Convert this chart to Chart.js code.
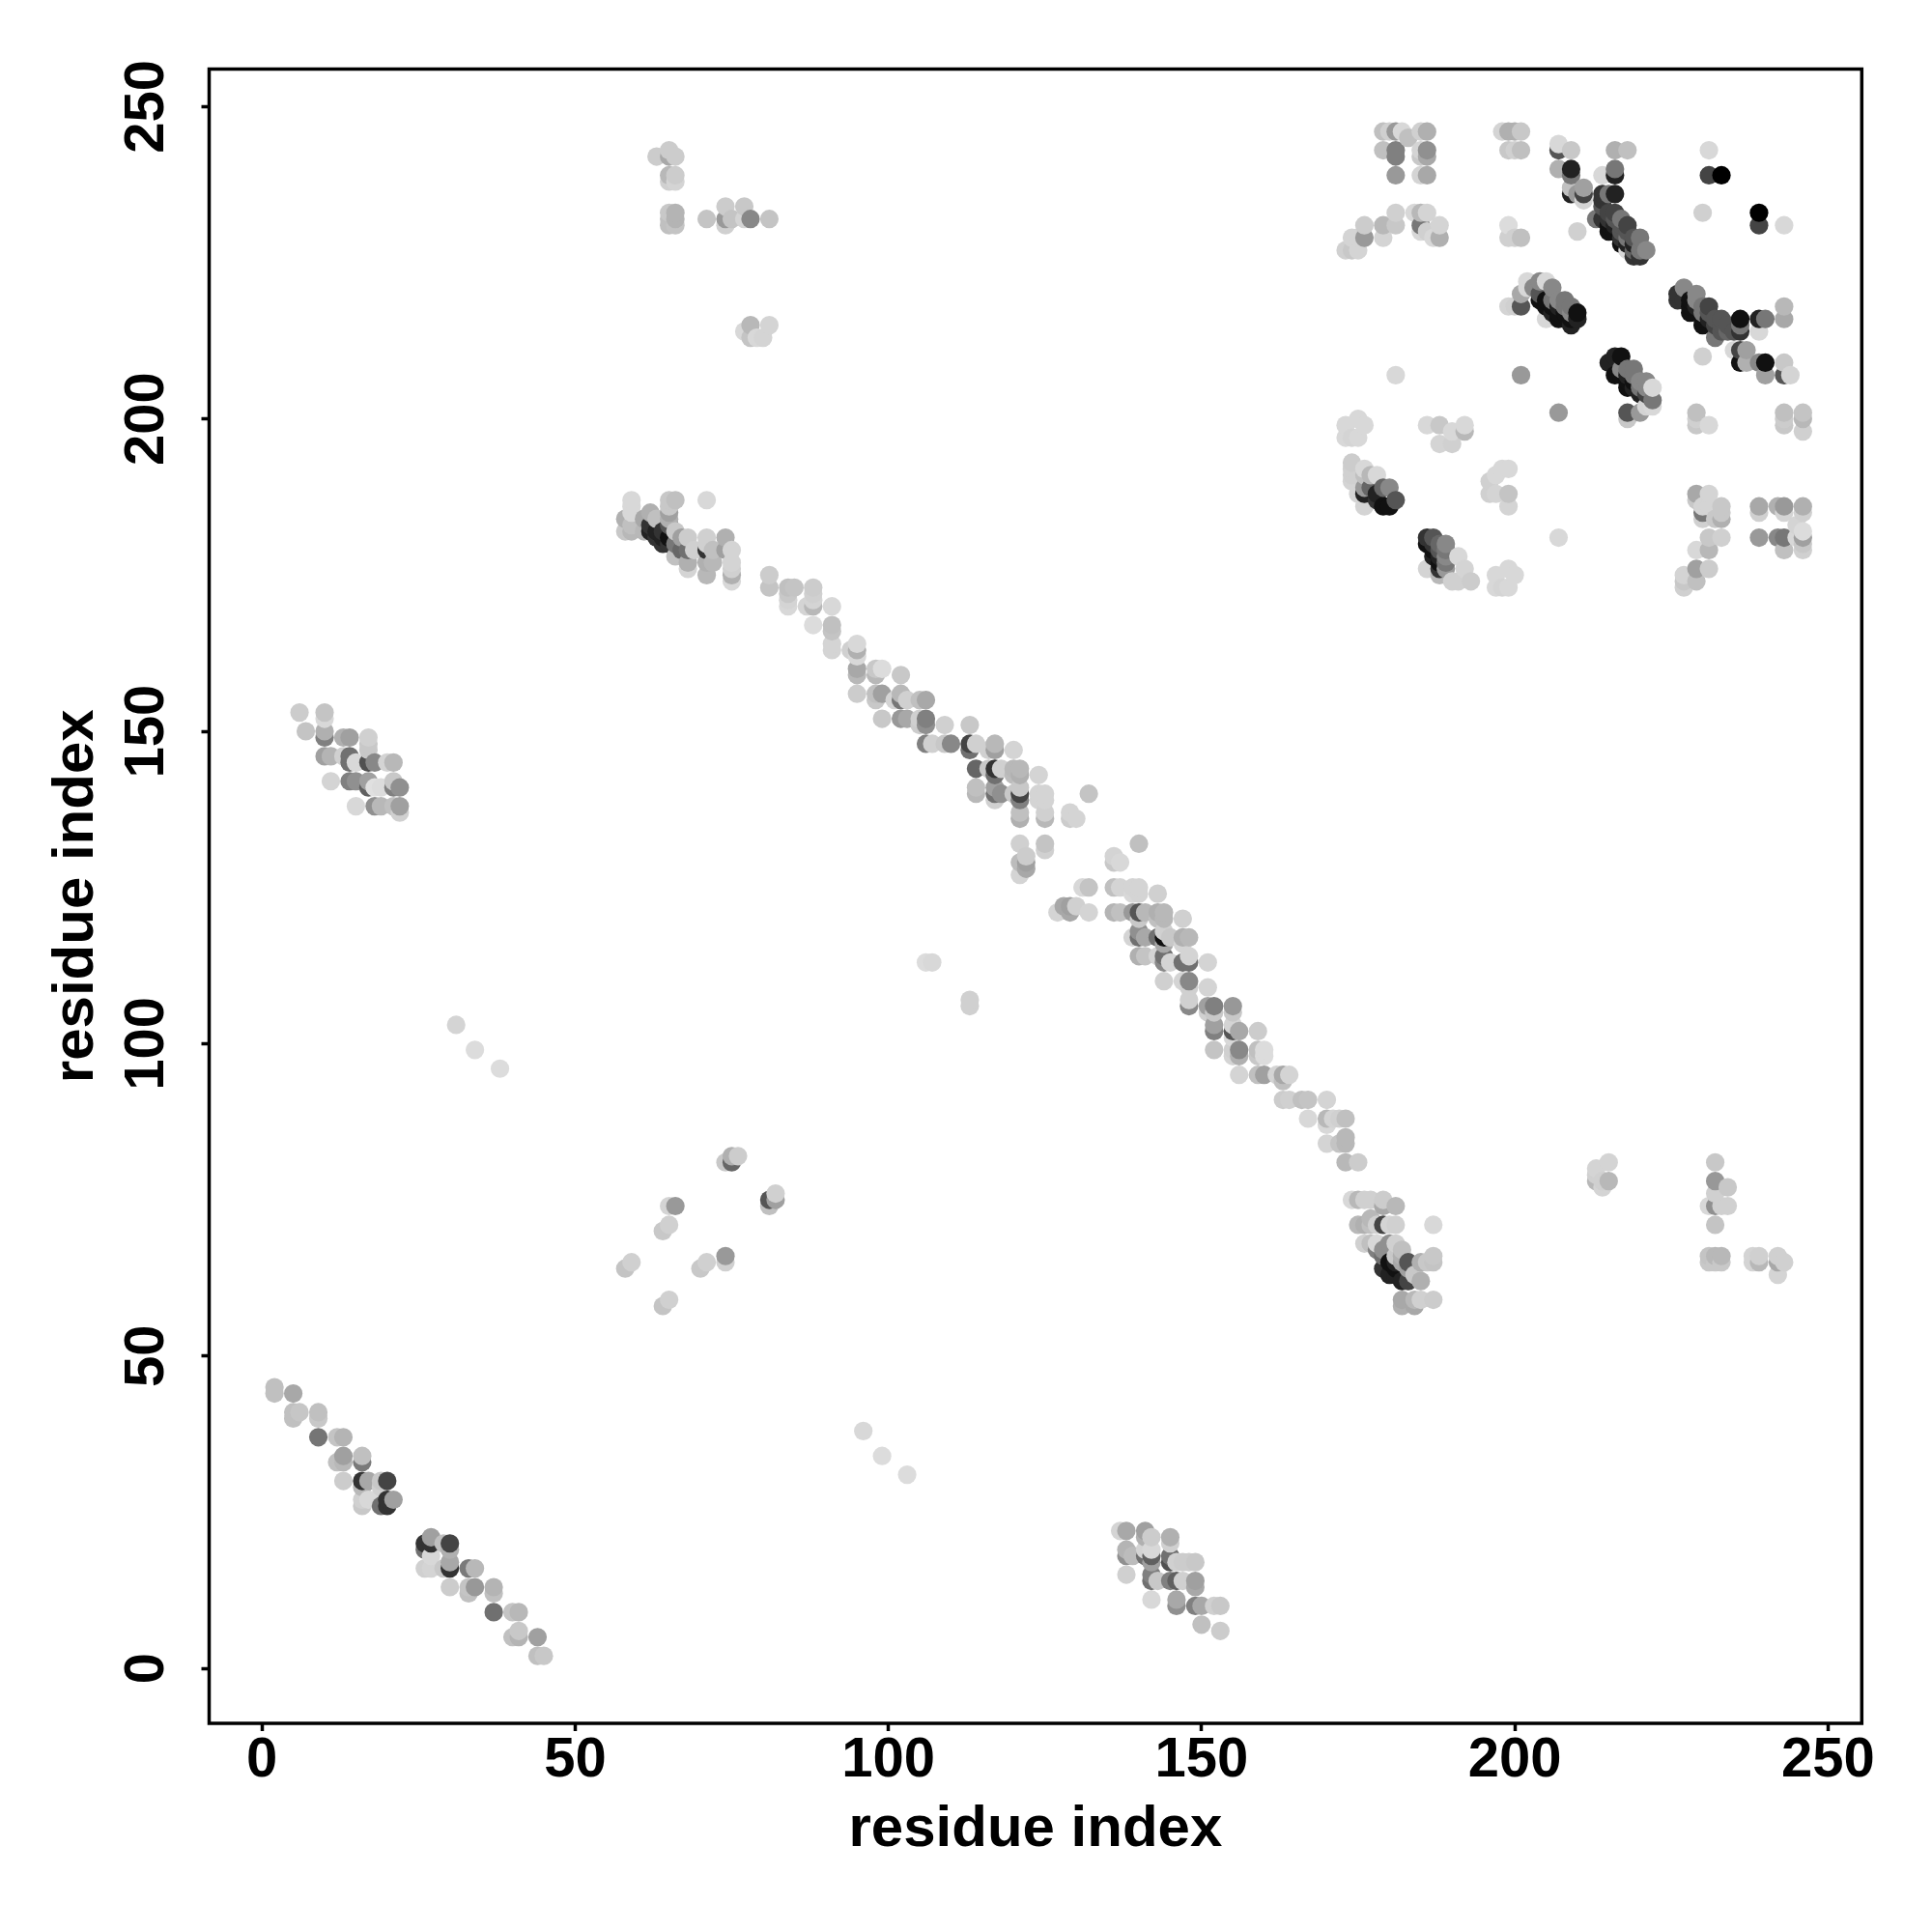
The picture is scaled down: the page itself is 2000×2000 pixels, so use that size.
<!DOCTYPE html>
<html>
<head>
<meta charset="utf-8">
<title>residue contacts</title>
<script src="https://cdn.jsdelivr.net/npm/chart.js@4"></script>
<style>
  body { margin: 0; background: #fff; }
  canvas { display: block; }
</style>
</head>
<body>
<canvas id="contactChart" width="2000" height="2000"></canvas>
<script>
// points are [residue x, residue y, grey level as hex]
const tickValues = [0, 50, 100, 150, 200, 250];
const axisTitle = 'residue index';

const lowerDiagonal = [
  [2,45,'c0'],[2,44,'c0'],[5,44,'a8'],[5,41,'c0'],[5,40,'c0'],[6,41,'c6'],[9,41,'c0'],[9,40,'c8'],[9,37,'75'],
  [12,37,'c4'],[13,37,'b4'],[12,33,'c0'],[13,34,'a0'],[13,33,'b8'],[16,34,'c0'],[16,33,'7a'],[13,30,'cc'],
  [16,30,'33'],[17,30,'a8'],[19,30,'c8'],[20,30,'44'],[16,29,'b8'],[16,27,'d0'],[16,26,'c8'],[17,27,'d8'],
  [18,27,'d8'],[19,26,'70'],[20,26,'33'],[20,27,'33'],[21,27,'a0'],[19,29,'d0'],
  [26,20,'33'],[26,19,'70'],[27,21,'a0'],[27,20,'33'],[26,16,'d0'],[27,16,'d4'],[27,18,'d8'],[30,20,'44'],
  [29,20,'c0'],[30,19,'b0'],[30,17,'a8'],[30,16,'33'],[29,16,'c8'],[33,16,'7a'],[34,16,'b8'],[30,13,'cc'],
  [33,13,'c4'],[33,12,'c0'],[34,13,'98'],[37,13,'b4'],[37,12,'c0'],[37,9,'70'],[40,9,'c4'],[41,9,'b8'],
  [40,5,'c0'],[41,6,'c8'],[41,5,'b4'],[44,5,'a0'],[44,2,'c0'],[45,2,'c8']
];

const lowerRightPatch = [
  [137,22,'d4'],[138,22,'a8'],[141,22,'a0'],[142,21,'cc'],[141,21,'b0'],[145,21,'b0'],[145,20,'d0'],
  [138,19,'b4'],[138,18,'90'],[139,18,'bc'],[141,19,'d4'],[142,19,'d8'],[141,18,'70'],[142,18,'60'],[142,17,'a0'],
  [138,15,'d0'],[142,15,'80'],[142,14,'70'],[143,14,'c8'],[145,18,'70'],[145,17,'50'],[146,17,'d0'],[147,17,'cc'],
  [148,17,'cc'],[149,17,'c8'],[145,14,'80'],[146,14,'60'],[147,14,'d0'],[149,14,'a0'],[149,13,'a8'],[142,11,'d8'],
  [146,11,'a8'],[146,10,'90'],[149,10,'80'],[150,10,'a8'],[152,10,'d0'],[153,10,'c8'],[150,7,'c0'],[153,6,'cc']
];

const upperLeftPatch = [
  [6,153,'cc'],[10,153,'c4'],[10,152,'d8'],[7,150,'c4'],[10,150,'b0'],[10,149,'80'],[10,146,'a0'],[11,146,'b4'],
  [13,149,'b0'],[14,149,'a0'],[14,146,'70'],[13,146,'d0'],[11,142,'d4'],[14,142,'80'],[15,142,'90'],[15,145,'d8'],
  [14,145,'70'],[17,149,'d0'],[17,148,'c8'],[17,147,'c8'],[17,145,'50'],[18,145,'88'],[20,145,'d4'],[21,145,'b8'],
  [17,142,'a0'],[17,141,'60'],[18,141,'e0'],[19,141,'dc'],[21,142,'c8'],[22,141,'90'],[21,141,'80'],[15,138,'d8'],
  [18,138,'90'],[19,138,'b8'],[21,138,'c0'],[22,138,'a0'],[22,137,'d0']
];

const loneContacts = [
  [31,103,'d4'],[34,99,'dc'],[38,96,'dc'],[96,38,'d8'],[99,34,'dc'],[103,31,'dc'],
  [106,113,'dc'],[107,113,'d8'],[113,107,'d0'],[113,106,'d0'],[181,207,'d8'],[207,181,'d8'],[201,207,'99'],[207,201,'99']
];

const longDiagonalTop = [
  [59,187,'d8'],[59,186,'d8'],[59,185,'d8'],[58,184,'b0'],[58,182,'c8'],[59,183,'c0'],[59,182,'b8'],[62,185,'b0'],
  [61,184,'a8'],[62,182,'22'],[62,183,'33'],[61,182,'b8'],[65,187,'c8'],[66,187,'c0'],[65,186,'c8'],[65,185,'a0'],
  [65,184,'b0'],[65,183,'55'],[64,181,'22'],[65,181,'11'],[63,184,'c0'],[63,181,'33'],[63,182,'22'],[64,182,'33'],
  [64,180,'33'],[65,180,'33'],[66,182,'c8'],[67,181,'a0'],[68,181,'cc'],[66,180,'77'],[67,179,'66'],[66,178,'c0'],
  [68,179,'70'],[68,177,'b0'],[68,176,'d4'],[69,179,'d0'],[71,181,'d0'],[71,180,'d0'],[71,179,'33'],[72,179,'c0'],[74,181,'b0'],[74,179,'a0'],
  [71,177,'b0'],[71,175,'b8'],[72,177,'b8'],[75,179,'d4'],[75,177,'d4'],[75,176,'d0'],[75,175,'b0'],[75,174,'d8'],
  [71,187,'d8'],[81,175,'cc'],[81,173,'c4'],[84,173,'c0'],[85,173,'c4'],[84,172,'c8'],[84,171,'d4'],[84,170,'d8'],
  [88,173,'cc'],[88,172,'d0'],[88,171,'d4'],[87,170,'d4'],[88,170,'b8'],[88,167,'dc'],[91,170,'d8'],[91,167,'c0'],
  [91,166,'c4'],[91,164,'d4'],[91,163,'d4'],[94,163,'d0'],[95,164,'d8'],[95,163,'b0'],[95,162,'d8'],[95,160,'a8'],
  [95,159,'b8'],[95,156,'cc'],[98,160,'c8'],[98,159,'b8'],[99,160,'dc'],[102,159,'c8'],[98,156,'c0'],[98,155,'c8'],
  [99,156,'a0'],[101,155,'d4'],[102,156,'b8'],[102,155,'77'],[103,155,'d0'],[105,155,'c0'],[106,155,'a8'],
  [99,152,'c8'],[102,152,'98'],[103,152,'a8'],[105,152,'d0'],[106,152,'80'],[106,151,'90'],[105,151,'cc'],
  [109,151,'d0'],[113,151,'c8'],[106,148,'80'],[107,148,'d0'],[109,148,'c8'],[110,148,'88'],[113,148,'44'],
  [113,147,'70'],[114,148,'d0'],[116,147,'d0'],[117,148,'b8'],[117,147,'a0'],[120,147,'d4']
];

const longDiagonalMiddle = [
  [114,144,'66'],[117,144,'33'],[117,143,'70'],[118,144,'d0'],[116,144,'c8'],[120,144,'b8'],[121,144,'b8'],[120,143,'bc'],
  [121,143,'b0'],[124,143,'d4'],[114,141,'c0'],[114,140,'b8'],[117,140,'70'],[117,141,'a0'],[118,140,'90'],[117,139,'d0'],
  [121,141,'c8'],[121,140,'44'],[121,139,'80'],[120,140,'c8'],[124,140,'d4'],[125,140,'d4'],[124,139,'d4'],[125,139,'d4'],
  [121,137,'c0'],[121,136,'b0'],[125,137,'d0'],[125,136,'b8'],[129,137,'d4'],[129,136,'cc'],[130,136,'d4'],[132,140,'c4'],
  [121,132,'d0'],[125,132,'c4'],[125,131,'d0'],[121,129,'bc'],[122,130,'cc'],[122,128,'a8'],[122,129,'a0'],[121,127,'d4'],
  [131,125,'d8'],[132,125,'c4'],[127,121,'d4'],[128,122,'a8'],[129,122,'a0'],[129,121,'a8'],[130,122,'d0'],[132,121,'d4'],
  [136,130,'d4'],[136,129,'c8'],[137,129,'d8'],[140,132,'c0'],[136,125,'c0'],[137,125,'d4'],[139,125,'d4'],[140,125,'d4'],
  [139,124,'d8'],[140,124,'d4'],[143,124,'d0'],[136,121,'b4'],[137,121,'c0'],[139,121,'99'],[140,121,'55'],[140,120,'c8'],
  [141,121,'b8'],[143,121,'b0'],[144,121,'b8'],[144,120,'b8'],[143,120,'c0'],[147,120,'d0'],[140,118,'90'],[140,117,'70'],
  [139,117,'d4'],[141,117,'a8'],[143,117,'70'],[144,117,'11'],[144,118,'d0'],[145,117,'c8'],[144,116,'a8'],[147,117,'b0'],
  [148,117,'b8'],[147,116,'d4'],[140,114,'b0'],[141,114,'c4'],[143,114,'d4'],[144,114,'70'],[144,113,'88'],[145,113,'d4'],
  [147,113,'70'],[148,114,'d4'],[148,113,'70'],[151,113,'d4'],[144,110,'d0'],[147,110,'d4'],[148,110,'88'],[148,109,'d0'],
  [151,109,'d4'],[148,107,'d0'],[148,106,'88']
];

const longDiagonalBottom = [
  [151,106,'a0'],[152,106,'80'],[151,105,'d0'],[152,105,'c8'],[155,106,'98'],[155,105,'c8'],[152,103,'a0'],[152,102,'80'],
  [155,103,'d4'],[155,102,'55'],[156,102,'a8'],[159,102,'cc'],[155,101,'d8'],[152,99,'c4'],[155,99,'d0'],[155,98,'d4'],
  [156,99,'88'],[156,98,'b0'],[159,99,'c0'],[160,99,'dc'],[160,98,'dc'],[159,98,'c8'],[156,95,'d4'],[159,95,'c0'],
  [160,95,'a0'],[162,95,'d4'],[163,95,'a8'],[163,94,'c0'],[164,95,'d4'],[163,91,'cc'],[164,91,'d0'],[166,91,'c0'],
  [167,91,'c4'],[170,91,'d4'],[167,88,'d8'],[170,88,'b8'],[170,87,'d8'],[171,88,'d4'],[172,88,'d0'],[173,88,'c0'],
  [170,84,'d4'],[172,84,'c4'],[173,85,'b8'],[173,84,'b8'],[173,81,'b8'],[175,81,'cc'],
  [174,75,'d8'],[175,75,'b8'],[176,75,'d0'],[177,75,'d0'],[179,75,'cc'],[179,74,'a8'],[181,74,'b8'],[175,71,'b8'],
  [176,71,'b0'],[177,72,'b8'],[177,71,'c0'],[178,71,'d0'],[179,71,'44'],[180,71,'d4'],[181,71,'d0'],[176,68,'d0'],
  [177,68,'c0'],[178,68,'d8'],[180,68,'90'],[181,68,'d0'],[178,67,'80'],[179,67,'90'],[179,66,'70'],[181,66,'c8'],
  [180,65,'11'],[181,65,'22'],[182,67,'c0'],[182,66,'b0'],[182,65,'a8'],[183,64,'a0'],[183,65,'55'],[185,65,'b0'],[187,66,'c8'],[187,65,'c4'],[186,65,'c8'],[180,63,'22'],
  [179,64,'33'],[181,64,'11'],[181,63,'22'],[182,62,'22'],[183,62,'44'],[185,62,'b0'],[184,63,'c8'],[182,59,'a8'],
  [182,58,'b0'],[184,58,'a8'],[184,59,'b8'],[185,59,'d0'],[187,59,'cc'],[187,71,'d8']
];

const lowerRightSpots = [
  [215,81,'d4'],[213,80,'d4'],[213,79,'d0'],[213,78,'b8'],[215,78,'b8'],[214,78,'d0'],[214,77,'d4'],
  [232,81,'c8'],[232,78,'98'],[234,77,'c8'],[232,76,'d0'],[231,74,'d8'],[232,74,'90'],[233,74,'d0'],[234,74,'d0'],[232,71,'c4'],
  [231,66,'c4'],[231,65,'c8'],[232,66,'b8'],[232,65,'c8'],[233,66,'b8'],[233,65,'c8'],[238,66,'d4'],[238,65,'d4'],
  [239,66,'d0'],[239,65,'b8'],[242,66,'d0'],[242,65,'a8'],[243,65,'d0'],[242,63,'d4']
];

const upperMiddleSpots = [
  [63,242,'cc'],[65,243,'cc'],[65,242,'a8'],[66,242,'cc'],[65,239,'b8'],[66,239,'cc'],[65,238,'d0'],[66,238,'d4'],
  [65,233,'c8'],[66,233,'b4'],[65,232,'c0'],[66,232,'b4'],[65,231,'c0'],[66,231,'c4'],[71,232,'c4'],[74,234,'cc'],
  [74,232,'99'],[74,231,'d0'],[75,232,'c4'],[77,234,'c8'],[77,232,'d4'],[78,232,'88'],[81,232,'c4'],
  [78,215,'b8'],[81,215,'d4'],[77,214,'d8'],[78,213,'c4'],[79,213,'d8'],[80,213,'d4']
];

const lowerMiddleSpots = [
  [74,81,'c8'],[75,81,'66'],[75,82,'b0'],[76,82,'cc'],[65,74,'d4'],[66,74,'99'],[64,70,'c8'],[65,71,'d0'],
  [58,64,'c4'],[59,65,'d0'],[70,64,'c8'],[71,65,'d0'],[74,65,'d0'],[74,66,'99'],[64,58,'c4'],[65,59,'d0'],
  [81,75,'55'],[81,74,'c0'],[82,75,'a0'],[82,76,'d0']
];

const topLeftOfCorner = [
  [179,246,'c0'],[180,246,'d0'],[181,246,'99'],[182,246,'d8'],[183,245,'c0'],[185,246,'d0'],[186,246,'b0'],
  [179,243,'c0'],[181,243,'80'],[181,242,'80'],[185,243,'d4'],[186,243,'90'],[186,242,'a8'],[185,242,'c8'],
  [181,239,'99'],[185,239,'d4'],[186,239,'a8'],[181,233,'d0'],[181,231,'c8'],[184,233,'d8'],[185,233,'b8'],
  [186,233,'d4'],[185,231,'77'],[188,231,'d4'],[176,231,'cc'],[179,231,'b8'],[176,229,'99'],[179,229,'d4'],
  [174,229,'d4'],[175,229,'d4'],[173,227,'d0'],[174,227,'c8'],[175,227,'d4'],[185,230,'d8'],[186,230,'d0'],
  [187,229,'d8'],[188,229,'b0'],[198,246,'d4'],[199,246,'b0'],[200,246,'b0'],[201,246,'c8'],[199,243,'c8'],
  [200,243,'d0'],[201,243,'c0'],[199,231,'dc'],[199,229,'d0'],[200,229,'d0'],[201,229,'c0'],[210,230,'d0']
];

const cornerDarkUpper = [
  [207,244,'d8'],[207,243,'55'],[209,243,'c8'],[207,240,'b0'],[209,240,'22'],[209,239,'77'],[209,237,'c0'],[209,236,'22'],
  [210,236,'99'],[211,237,'a0'],[211,236,'44'],[211,235,'d4'],[216,243,'b0'],[218,243,'c0'],[214,239,'d8'],[216,240,'77'],
  [216,239,'22'],[214,236,'33'],[215,236,'77'],[216,236,'22'],[214,235,'33'],[214,234,'55'],[215,233,'44'],[216,233,'44'],
  [213,232,'77'],[214,232,'33'],[215,232,'33'],[216,232,'55'],[217,232,'77'],[218,231,'44'],[216,231,'22'],[217,231,'55'],
  [215,231,'11'],[215,230,'11'],[216,230,'11'],[217,230,'55'],[218,230,'55'],[217,229,'33'],[218,229,'77'],[219,229,'55'],
  [217,228,'11'],[218,228,'22'],[219,228,'22'],[220,229,'77'],[219,227,'66'],[220,227,'77'],[221,227,'88'],[219,226,'33'],[220,226,'33'],[218,227,'d8'],
  [231,243,'d8'],[231,239,'44'],[233,239,'00'],[239,233,'00'],[239,231,'44'],[243,231,'d8'],[230,233,'d0']
];

const cornerDarkMiddle = [
  [202,222,'d8'],[201,220,'a8'],[202,221,'d8'],[199,218,'d4'],[200,218,'d0'],[201,218,'55'],[203,221,'88'],[204,222,'88'],
  [205,222,'d8'],[206,221,'88'],[204,220,'55'],[204,219,'11'],[205,219,'11'],[205,218,'11'],[205,216,'d8'],[206,219,'77'],[206,218,'11'],[206,217,'22'],
  [207,216,'11'],[207,217,'11'],[207,218,'22'],[208,217,'11'],[208,218,'77'],[208,219,'77'],
  [207,219,'88'],[209,215,'22'],[209,216,'11'],[209,218,'77'],[210,217,'11'],[210,216,'22'],[209,217,'88'],
  [227,221,'88'],[226,220,'33'],[226,219,'33'],[227,219,'33'],[229,220,'88'],[228,219,'11'],[228,218,'11'],[228,217,'11'],[229,218,'22'],[229,219,'88'],
  [230,218,'77'],[230,216,'11'],[231,216,'22'],[231,217,'55'],[231,218,'44'],[230,217,'77'],[232,215,'44'],[232,216,'55'],
  [230,215,'11'],[233,216,'55'],[233,215,'55'],[234,215,'55'],[234,214,'66'],[235,214,'55'],[232,213,'77'],[233,214,'55'],[236,216,'11'],[236,215,'77'],[236,214,'33'],[239,216,'22'],
  [240,216,'77'],[243,218,'b8'],[243,216,'a8'],[239,214,'d8'],[230,210,'d0'],[235,211,'d8'],[236,211,'44'],[237,211,'a0'],
  [236,209,'11'],[237,209,'b0'],[239,209,'88'],[240,209,'11'],[240,207,'a0'],[243,209,'c8'],[243,207,'55'],[244,207,'d4']
];

const cornerDarkLower = [
  [215,209,'22'],[216,210,'22'],[217,210,'11'],[216,207,'11'],[217,207,'11'],[217,208,'88'],[218,208,'77'],[218,207,'22'],[218,206,'11'],
  [219,208,'77'],[219,207,'77'],[219,206,'11'],[219,205,'22'],[218,205,'11'],[220,206,'88'],[220,205,'77'],[221,205,'88'],[221,204,'44'],
  [221,206,'88'],[220,204,'22'],[222,205,'d8'],[222,203,'77'],[222,202,'d8'],[221,202,'d4'],[220,201,'99'],[218,201,'55'],
  [218,200,'c8'],[229,201,'c0'],[229,200,'d0'],[231,199,'d8'],[229,199,'c8'],[243,201,'c0'],[246,201,'c4'],[243,200,'cc'],
  [246,200,'b8'],[243,199,'c8'],[246,198,'d0']
];

const cornerLeftBlocks = [
  [175,200,'d8'],[173,199,'d8'],[176,199,'d8'],[173,197,'d8'],[175,197,'d8'],[174,197,'d4'],[186,199,'d8'],[188,199,'c8'],
  [192,199,'d8'],[188,196,'d4'],[190,198,'d8'],[190,196,'d0'],[192,198,'b8'],[174,193,'cc'],[174,192,'d0'],[174,191,'d0'],
  [174,190,'d4'],[176,192,'d8'],[176,191,'c0'],[176,189,'99'],[176,188,'22'],[175,188,'d4'],[176,186,'d4'],[177,191,'b8'],
  [178,191,'d8'],[177,189,'66'],[178,188,'22'],[179,186,'11'],[180,186,'11'],[179,189,'66'],[180,189,'88'],[181,187,'55'],
  [178,187,'33'],[199,192,'d8'],[198,192,'d8'],[196,190,'d0'],[196,188,'d0'],[197,191,'d8'],[197,188,'d4'],[199,188,'c4'],
  [199,186,'d4'],[186,181,'33'],[187,181,'55'],[186,180,'11'],[187,180,'33'],[188,180,'66'],[189,180,'88'],[186,176,'d4'],
  [187,179,'11'],[187,178,'22'],[188,179,'55'],[189,179,'77'],[188,177,'11'],[189,177,'77'],
  [188,178,'22'],[188,176,'33'],[188,175,'b8'],[191,178,'d8'],[189,178,'88'],[189,176,'99'],[192,176,'d4'],[190,174,'d0'],
  [191,174,'d0'],[193,174,'cc'],[197,175,'d8'],[197,173,'d8'],[199,176,'d8'],[200,175,'d8'],[199,173,'d8'],[198,173,'d4']
];

const cornerRightBlocks = [
  [229,188,'a8'],[231,188,'d4'],[229,187,'c8'],[230,186,'d4'],[231,186,'d4'],[230,185,'77'],[230,184,'d0'],[233,186,'c8'],
  [233,184,'b0'],[232,184,'c8'],[233,185,'c8'],[231,181,'c8'],[233,181,'d0'],[229,179,'d8'],[231,179,'b8'],[229,176,'a0'],
  [231,176,'cc'],[227,175,'d4'],[229,174,'c0'],[227,174,'c8'],[227,173,'d0'],[239,186,'a8'],[239,185,'d0'],[242,186,'b0'],
  [243,186,'99'],[243,185,'d4'],[246,186,'b0'],[246,185,'d0'],[239,181,'99'],[242,181,'88'],[243,181,'77'],[243,179,'c0'],
  [245,183,'d4'],[245,181,'d8'],[246,182,'dc'],[246,181,'a0'],[246,179,'d0'],[246,180,'c8']
];

const allPoints = [].concat(
  lowerDiagonal, lowerRightPatch, upperLeftPatch, loneContacts, longDiagonalTop, longDiagonalMiddle,
  longDiagonalBottom, lowerRightSpots, upperMiddleSpots, lowerMiddleSpots, topLeftOfCorner,
  cornerDarkUpper, cornerDarkMiddle, cornerDarkLower, cornerLeftBlocks, cornerRightBlocks
);
// the reference paints column by column, low y first
allPoints.sort((a, b) => a[0] - b[0] || a[1] - b[1]);

const framePlugin = {
  id: 'frame',
  afterDraw(chart) {
    const { ctx, chartArea: a } = chart;
    ctx.save();
    ctx.strokeStyle = '#000';
    ctx.lineWidth = 3.5;
    ctx.strokeRect(a.left, a.top, a.right - a.left, a.bottom - a.top);
    ctx.restore();
  }
};

function axisOptions(extra) {
  return Object.assign({
    type: 'linear',
    afterBuildTicks: scale => { scale.ticks = tickValues.map(v => ({ value: v })); },
    grid: { drawOnChartArea: false, color: '#000', tickColor: '#000', tickWidth: 3.5, tickLength: 8 },
    border: { display: false }
  }, extra);
}

const tickFont = { family: '"Liberation Sans", Arial, sans-serif', size: 58, weight: 'bold' };
const titleFont = { family: '"Liberation Sans", Arial, sans-serif', size: 60, weight: 'bold' };

new Chart(document.getElementById('contactChart').getContext('2d'), {
  type: 'scatter',
  data: {
    datasets: [{
      label: axisTitle,
      data: allPoints.map(p => ({ x: p[0], y: p[1] })),
      pointRadius: 9.6,
      pointBorderWidth: 0,
      pointBackgroundColor: allPoints.map(p => '#' + p[2] + p[2] + p[2])
    }]
  },
  options: {
    responsive: false,
    animation: false,
    devicePixelRatio: 1,
    layout: { padding: { left: 0, right: 72.7, top: 71.5, bottom: 0 } },
    plugins: { legend: { display: false }, tooltip: { enabled: false } },
    scales: {
      x: axisOptions({
        min: -8.43,
        max: 255.4,
        afterFit: scale => { scale.height = 216; },
        ticks: { color: '#000', font: tickFont, padding: -4, maxRotation: 0, autoSkip: false },
        title: { display: true, text: axisTitle, color: '#000', font: titleFont, padding: { top: 0, bottom: 70 } }
      }),
      y: axisOptions({
        min: -8.8,
        max: 256,
        afterFit: scale => { scale.width = 216.5; },
        ticks: { color: '#000', font: tickFont, padding: 7.5, minRotation: 90, maxRotation: 90, crossAlign: 'center', autoSkip: false },
        title: { display: true, text: axisTitle, color: '#000', font: titleFont, padding: { top: 43, bottom: 0 } }
      })
    }
  },
  plugins: [framePlugin]
});
</script>
</body>
</html>
